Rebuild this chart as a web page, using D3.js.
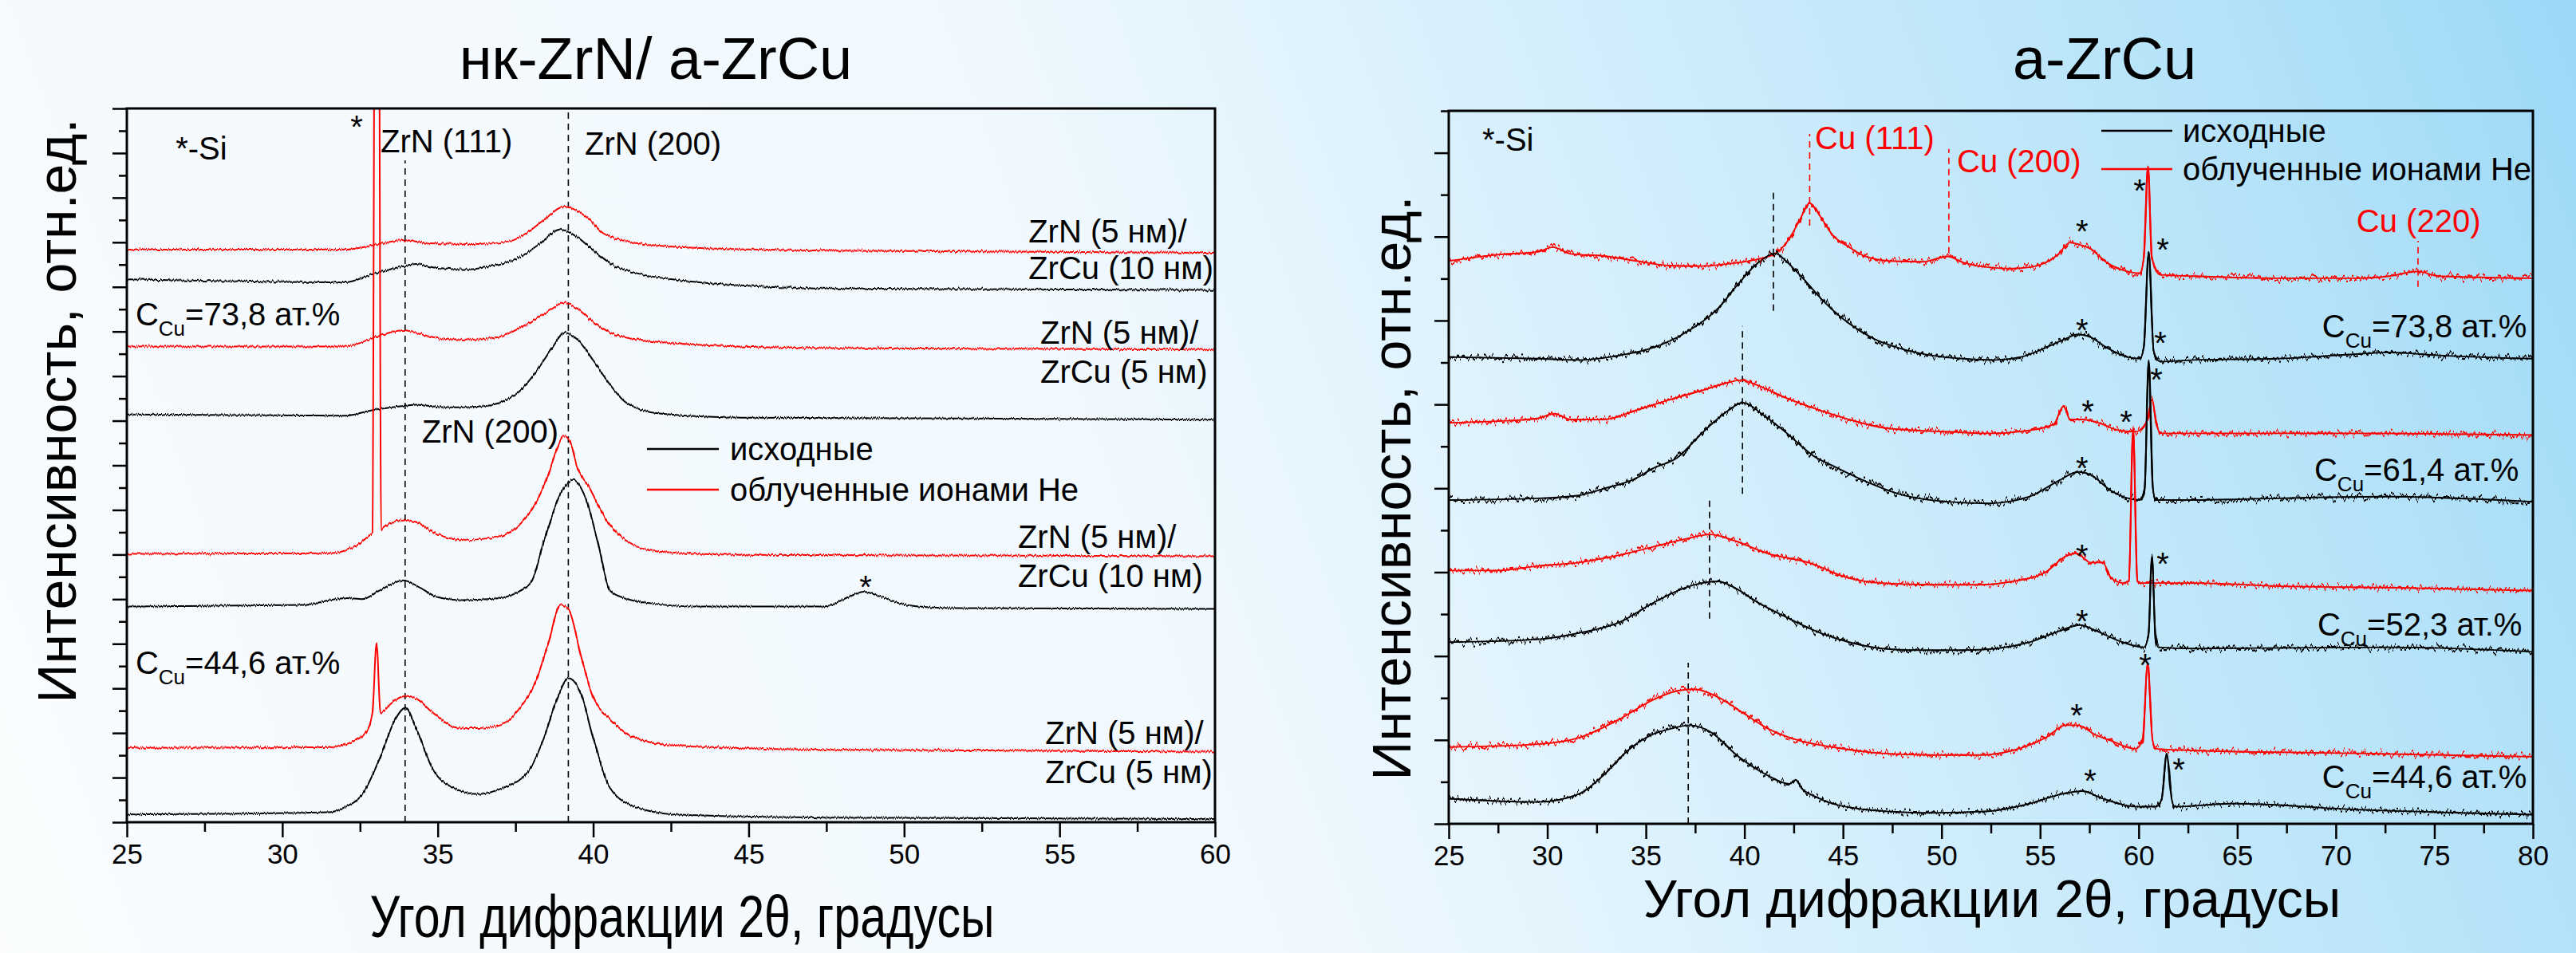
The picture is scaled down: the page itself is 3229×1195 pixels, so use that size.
<!DOCTYPE html>
<html lang="ru">
<head>
<meta charset="utf-8">
<script src="https://cdn.jsdelivr.net/npm/d3@7"></script>
<style>
  body { margin: 0; }
  svg { display: block; font-family: "Liberation Sans", Arial, sans-serif; }
</style>
</head>
<body>
<div id="chart"></div>
<script>
// Дифрактограммы: нк-ZrN/a-ZrCu (слева) и a-ZrCu (справа)
// x - угол 2θ, y - интенсивность в делениях оси (отн. ед.)

// ---- левый график: нк-ZrN/ a-ZrCu ----
const zrn10_738_obl = [[25, 25.67], [32.0, 25.67], [33.1, 25.92], [33.9, 26.10], [34.7, 25.96], [36.3, 25.92], [37.35, 26.06], [37.9, 26.46], [38.4, 26.99], [39.08, 27.60], [39.47, 27.42], [39.9, 26.99], [40.27, 26.46], [40.8, 26.14], [41.6, 25.92], [43.45, 25.74], [47.4, 25.63], [60, 25.53]];
const zrn10_738_isx = [[25, 24.34], [32.05, 24.21], [32.85, 24.55], [33.9, 24.93], [34.3, 25.03], [34.97, 24.85], [36.0, 24.79], [36.8, 24.96], [37.6, 25.30], [38.27, 25.92], [38.93, 26.57], [39.47, 26.25], [40.0, 25.64], [40.66, 24.96], [41.6, 24.55], [42.9, 24.28], [44.76, 24.07], [47.4, 23.93], [60, 23.86]];
const zrn5_738_obl = [[25, 21.33], [32.05, 21.33], [32.85, 21.67], [33.51, 21.97], [33.9, 22.06], [34.44, 21.88], [35.2, 21.67], [36.3, 21.64], [37.1, 21.81], [37.9, 22.36], [38.55, 22.90], [39.08, 23.29], [39.47, 23.04], [40.0, 22.43], [40.66, 21.88], [41.6, 21.61], [43.45, 21.40], [47.4, 21.26], [60, 21.19]];
const zrn5_738_isx = [[25, 18.28], [32.05, 18.23], [32.85, 18.46], [33.9, 18.66], [34.3, 18.72], [35.2, 18.60], [36.3, 18.63], [37.1, 18.87], [37.6, 19.28], [38.15, 20.17], [38.68, 21.26], [39.08, 21.95], [39.47, 21.67], [40.0, 20.71], [40.54, 19.62], [41.07, 18.80], [42.13, 18.32], [44.76, 18.14], [60, 18.05]];
const zrn10_446_obl = [[25, 12.03], [31.5, 12.06], [32.3, 12.33], [32.72, 12.76], [32.9, 13.0], [32.98, 40], [33.1, 40], [33.18, 13.1], [33.25, 13.19], [33.9, 13.56], [34.3, 13.46], [34.97, 12.93], [35.76, 12.65], [36.82, 12.76], [37.62, 13.32], [38.15, 14.30], [38.55, 15.56], [38.85, 16.8], [39.05, 17.32], [39.25, 17.1], [39.47, 15.98], [39.87, 15.02], [40.4, 13.60], [41.07, 12.62], [42.1, 12.13], [44.76, 11.99], [60, 11.92]];
const zrn10_446_isx = [[25, 9.67], [30.73, 9.74], [31.52, 9.96], [32.05, 10.05], [32.58, 10.0], [33.12, 10.38], [33.9, 10.84], [34.44, 10.51], [34.97, 10.10], [35.76, 9.96], [36.82, 10.02], [37.62, 10.35], [38.02, 10.80], [38.42, 12.62], [38.95, 14.73], [39.35, 15.35], [39.74, 14.59], [40.14, 12.62], [40.54, 10.38], [41.07, 10.02], [41.87, 9.81], [43.45, 9.67], [47.43, 9.67], [48.22, 10.10], [48.7, 10.33], [49.15, 10.16], [50.07, 9.74], [51.4, 9.60], [60, 9.56]];
const zrn5_446_obl = [[25, 3.33], [31.52, 3.36], [32.32, 3.65], [32.72, 4.08], [32.9, 4.91], [33.03, 8.02], [33.16, 4.91], [33.51, 5.33], [33.9, 5.64], [34.3, 5.54], [34.84, 4.91], [35.63, 4.24], [36.3, 4.22], [37.1, 4.42], [37.6, 5.05], [38.15, 6.31], [38.55, 7.99], [38.95, 9.75], [39.21, 9.54], [39.61, 7.44], [40.0, 5.61], [40.54, 4.63], [41.33, 3.79], [42.65, 3.43], [47.4, 3.25], [60, 3.16]];
const zrn5_446_isx = [[25, 0.35], [31.52, 0.45], [32.05, 0.70], [32.58, 1.26], [33.12, 2.81], [33.64, 4.63], [33.95, 5.12], [34.3, 4.22], [34.84, 2.38], [35.5, 1.54], [36.3, 1.26], [37.1, 1.54], [37.9, 2.25], [38.42, 3.79], [38.82, 5.47], [39.21, 6.45], [39.61, 5.75], [40.0, 3.79], [40.54, 1.54], [41.33, 0.70], [42.65, 0.35], [47.4, 0.21], [60, 0.14]];

// ---- правый график: a-ZrCu ----
const zrcu738_obl = [[25, 13.42], [27.45, 13.57], [29.53, 13.64], [30.27, 13.75], [31.19, 13.59], [32.85, 13.54], [34.51, 13.42], [36.17, 13.31], [37.83, 13.30], [39.49, 13.37], [40.74, 13.47], [41.57, 13.60], [42.19, 13.89], [42.81, 14.40], [43.31, 14.80], [43.85, 14.48], [44.47, 14.04], [45.31, 13.75], [46.13, 13.53], [47.38, 13.42], [49.04, 13.40], [50.29, 13.53], [51.12, 13.38], [52.37, 13.27], [53.61, 13.24], [54.86, 13.31], [55.9, 13.57], [56.52, 13.86], [56.93, 13.82], [57.56, 13.71], [58.39, 13.38], [59.22, 13.20], [60.05, 13.13], [60.26, 13.5], [60.47, 15.68], [60.67, 13.5], [61.09, 13.09], [62.75, 13.06], [66.9, 13.01], [71.05, 13.01], [72.71, 13.06], [74.17, 13.17], [75.2, 13.06], [80, 13.01]];
const zrcu738_isx = [[25, 11.13], [29.53, 11.09], [31.6, 11.06], [33.68, 11.17], [35.34, 11.35], [37.0, 11.71], [38.66, 12.29], [39.7, 12.88], [40.53, 13.31], [41.15, 13.53], [41.57, 13.60], [42.19, 13.38], [43.02, 12.98], [44.06, 12.44], [45.31, 11.93], [46.55, 11.57], [47.8, 11.35], [49.46, 11.17], [51.12, 11.09], [52.78, 11.06], [54.03, 11.13], [55.27, 11.35], [56.31, 11.57], [56.93, 11.67], [57.56, 11.60], [58.39, 11.35], [59.43, 11.13], [60.05, 11.09], [60.26, 11.35], [60.51, 13.64], [60.76, 11.27], [61.09, 11.02], [62.75, 11.06], [66.9, 11.09], [71.05, 11.20], [72.71, 11.24], [75.2, 11.17], [80, 11.09]];
const zrcu614_obl = [[25, 9.56], [27.45, 9.60], [29.53, 9.67], [30.36, 9.78], [31.19, 9.64], [32.85, 9.64], [34.51, 9.86], [36.17, 10.11], [37.83, 10.33], [39.08, 10.51], [39.82, 10.58], [40.74, 10.44], [41.98, 10.18], [43.64, 9.89], [45.31, 9.64], [46.97, 9.45], [48.63, 9.38], [50.29, 9.35], [52.37, 9.31], [54.45, 9.38], [55.69, 9.53], [56.19, 9.96], [56.52, 9.64], [57.14, 9.64], [57.97, 9.56], [59.01, 9.38], [59.84, 9.35], [60.42, 9.6], [60.67, 10.11], [60.92, 9.5], [61.09, 9.31], [62.75, 9.31], [71.05, 9.31], [80, 9.27]];
const zrcu614_isx = [[25, 7.72], [29.53, 7.76], [31.6, 7.83], [32.85, 7.99], [34.51, 8.24], [35.34, 8.47], [36.59, 8.73], [37.83, 9.31], [39.08, 9.82], [39.91, 10.04], [40.95, 9.75], [41.98, 9.38], [43.64, 8.73], [44.47, 8.54], [46.13, 8.17], [47.8, 7.87], [50.29, 7.68], [52.37, 7.64], [54.45, 7.80], [55.9, 8.17], [56.93, 8.39], [57.56, 8.32], [58.6, 7.94], [60.05, 7.72], [60.3, 8.0], [60.51, 11.06], [60.72, 8.0], [60.88, 7.72], [62.75, 7.72], [66.9, 7.76], [72.71, 7.80], [80, 7.68]];
const zrcu523_obl = [[25, 6.04], [27.45, 6.04], [29.53, 6.15], [31.6, 6.23], [33.68, 6.41], [35.34, 6.60], [37.0, 6.79], [38.25, 6.90], [39.49, 6.75], [41.15, 6.45], [43.23, 6.23], [45.31, 5.86], [46.97, 5.74], [49.46, 5.70], [51.95, 5.70], [53.61, 5.78], [55.27, 6.0], [56.31, 6.38], [56.85, 6.45], [57.56, 6.23], [58.18, 6.23], [58.6, 5.86], [59.22, 5.74], [59.5, 5.8], [59.72, 9.4], [59.93, 5.8], [60.05, 5.74], [62.75, 5.74], [66.9, 5.67], [73.13, 5.63], [80, 5.56]];
const zrcu523_isx = [[25, 4.33], [29.53, 4.40], [31.6, 4.55], [33.68, 4.81], [35.34, 5.26], [37.0, 5.63], [37.83, 5.74], [38.66, 5.78], [39.49, 5.63], [40.74, 5.26], [41.98, 4.96], [43.64, 4.59], [45.31, 4.33], [46.97, 4.18], [48.63, 4.14], [51.12, 4.14], [52.78, 4.18], [54.45, 4.33], [56.1, 4.62], [57.02, 4.74], [57.76, 4.62], [59.01, 4.36], [60.26, 4.21], [60.5, 4.5], [60.67, 6.38], [60.85, 4.5], [61.0, 4.21], [62.75, 4.18], [72.71, 4.21], [80, 4.10]];
const zrcu446_obl = [[25, 1.83], [29.53, 1.90], [31.6, 2.05], [33.68, 2.50], [35.34, 2.95], [36.59, 3.17], [37.42, 3.21], [38.66, 3.02], [39.91, 2.65], [41.15, 2.28], [42.81, 1.98], [44.47, 1.83], [46.97, 1.68], [49.46, 1.64], [51.95, 1.64], [53.61, 1.75], [55.27, 2.05], [56.31, 2.35], [56.93, 2.35], [57.76, 2.13], [58.6, 1.98], [59.84, 1.79], [60.2, 2.0], [60.45, 3.80], [60.7, 2.0], [60.88, 1.79], [62.75, 1.75], [71.05, 1.68], [80, 1.60]];
const zrcu446_isx = [[25, 0.60], [29.53, 0.52], [31.6, 0.71], [32.85, 1.16], [34.09, 1.75], [35.34, 2.13], [36.38, 2.28], [37.21, 2.35], [38.25, 2.20], [39.7, 1.60], [41.15, 1.16], [42.3, 0.95], [42.6, 1.05], [42.9, 0.85], [43.64, 0.64], [46.13, 0.34], [49.46, 0.26], [52.37, 0.30], [54.45, 0.48], [56.1, 0.71], [57.14, 0.78], [58.18, 0.60], [59.84, 0.41], [60.88, 0.41], [61.17, 0.6], [61.42, 1.68], [61.67, 0.6], [61.83, 0.41], [64.82, 0.48], [71.05, 0.34], [80, 0.22]];

// подписи (координаты в единицах осей)
const textLeft = [
  { t: "*-Si", x: 26.57, y: 29.71 },
  { t: "ZrN (111)", x: 33.16, y: 30.03 },
  { t: "ZrN (200)", x: 39.73, y: 29.93 },
  { t: "ZrN (5 нм)/", x: 54.0, y: 25.99 },
  { t: "ZrCu (10 нм)", x: 54.0, y: 24.35 },
  { t: "ZrN (5 нм)/", x: 54.38, y: 21.47 },
  { t: "ZrCu (5 нм)", x: 54.38, y: 19.70 },
  { t: "ZrN (200)", x: 34.49, y: 17.02 },
  { t: "ZrN (5 нм)/", x: 53.66, y: 12.31 },
  { t: "ZrCu (10 нм)", x: 53.66, y: 10.56 },
  { t: "ZrN (5 нм)/", x: 54.54, y: 3.50 },
  { t: "ZrCu (5 нм)", x: 54.54, y: 1.75 }
];
const concLeft = [{ v: "73,8", x: 25.28, y: 22.29 }, { v: "44,6", x: 25.28, y: 6.66 }];
const starsLeft = [[32.39, 30.68], [48.76, 10.05]];
const dashLeft = [[33.95, 0, 29.67], [39.2, 0, 32]];

const textRight = [{ t: "*-Si", x: 26.70, y: 16.05 }];
const cuPeaks = [{ t: "Cu (111)", x: 43.58, y: 16.08 }, { t: "Cu (200)", x: 50.78, y: 15.54 }, { t: "Cu (220)", x: 71.05, y: 14.11 }];
const concRight = [{ v: "73,8", x: 69.31, y: 11.60 }, { v: "61,4", x: 68.91, y: 8.17 }, { v: "52,3", x: 69.07, y: 4.48 }, { v: "44,6", x: 69.31, y: 0.86 }];
const starsRight = [[57.13, 13.86], [60.05, 14.83], [61.22, 13.42], [57.13, 11.50], [61.10, 11.20], [60.90, 10.33], [57.42, 9.56], [59.36, 9.32], [57.13, 8.21], [57.13, 6.12], [61.22, 5.93], [60.33, 3.52], [57.13, 4.56], [56.85, 2.32], [57.54, 0.76], [62.03, 1.03]];
const dashRightCu = [[43.31, 14.26, 16.45], [50.37, 13.60, 16.09], [74.17, 12.80, 13.90]];
const dashRight = [[41.47, 12.23, 15.14], [39.9, 7.87, 11.87], [38.23, 4.89, 7.80], [37.15, 0, 3.84]];

const xTicksLeft = [25, 30, 35, 40, 45, 50, 55, 60];
const xTicksRight = [25, 30, 35, 40, 45, 50, 55, 60, 65, 70, 75, 80];
const legendNames = ["исходные", "облученные ионами He"];

const W = 3229, H = 1195;
const RED = "#ff0000";

const svg = d3.select("#chart").append("svg").attr("width", W).attr("height", H);
const defs = svg.append("defs");

// фон
const grad = defs.append("linearGradient").attr("id", "bg")
  .attr("gradientUnits", "userSpaceOnUse")
  .attr("x1", 0).attr("y1", H).attr("x2", W).attr("y2", 0);
[[0, "#fbfdfe"], [0.12, "#f6fafd"], [0.44, "#f1f9fe"], [0.56, "#e0f3fd"], [0.88, "#b3e2f9"], [1, "#9cd8f7"]]
  .forEach(s => grad.append("stop").attr("offset", s[0]).attr("stop-color", s[1]));
svg.append("rect").attr("width", W).attr("height", H).attr("fill", "url(#bg)");

// шум на кривых
function noise(id, freq, scale, seed) {
  const f = defs.append("filter").attr("id", id)
    .attr("x", "-2%").attr("y", "-10%").attr("width", "104%").attr("height", "120%")
    .attr("color-interpolation-filters", "sRGB");
  f.append("feTurbulence").attr("type", "fractalNoise").attr("baseFrequency", freq)
    .attr("numOctaves", 2).attr("seed", seed).attr("result", "n");
  f.append("feColorMatrix").attr("in", "n").attr("type", "matrix")
    .attr("values", "0 0 0 0 0.5  0 1 0 0 0  0 0 0 0 0  0 0 0 0 1").attr("result", "m");
  f.append("feDisplacementMap").attr("in", "SourceGraphic").attr("in2", "m")
    .attr("scale", scale).attr("xChannelSelector", "R").attr("yChannelSelector", "G");
}
noise("noiseL", "0.6 0.004", 5, 2);
noise("noiseR", "0.3 0.004", 18, 7);

function panel(cfg) {
  const x = d3.scaleLinear().domain(cfg.xDomain).range([cfg.left, cfg.right]);
  const y = d3.scaleLinear().domain([0, cfg.yMax]).range([cfg.bottom, cfg.top]);
  const g = svg.append("g");

  defs.append("clipPath").attr("id", cfg.id + "clip")
    .append("rect").attr("x", cfg.left).attr("y", cfg.top)
    .attr("width", cfg.right - cfg.left).attr("height", cfg.bottom - cfg.top);

  // штриховые линии
  const dl = g.append("g").attr("stroke-width", 1.6).attr("stroke-dasharray", "8,6");
  cfg.dashes.forEach(d => dl.append("line")
    .attr("x1", x(d[0])).attr("x2", x(d[0])).attr("y1", y(d[1])).attr("y2", y(d[2]))
    .attr("stroke", "#000"));
  (cfg.redDashes || []).forEach(d => dl.append("line")
    .attr("x1", x(d[0])).attr("x2", x(d[0])).attr("y1", y(d[1])).attr("y2", y(d[2]))
    .attr("stroke", RED));

  // кривые: гладкая основа + зашумлённый слой
  const line = d3.line().x(d => x(d[0])).y(d => y(d[1])).curve(d3.curveMonotoneX);
  const clip = g.append("g").attr("clip-path", `url(#${cfg.id}clip)`);
  const layers = cfg.base ? [clip.append("g"), clip.append("g").attr("filter", `url(#${cfg.noise})`)]
                          : [clip.append("g").attr("filter", `url(#${cfg.noise})`)];
  layers.forEach((lg, k) => cfg.series.forEach(s => lg.append("path").datum(s.data)
    .attr("d", line).attr("fill", "none").attr("stroke", s.red ? RED : "#000")
    .attr("stroke-width", k === 0 && cfg.base ? cfg.base : cfg.lw).attr("stroke-linejoin", "round")));

  // оси: большие и малые деления
  const minorX = d3.range(cfg.xDomain[0] + 2.5, cfg.xDomain[1], 5);
  g.append("g").attr("transform", `translate(0,${cfg.bottom})`)
    .call(d3.axisBottom(x).tickValues(minorX).tickSize(12))
    .selectAll("text").remove();
  g.append("g").attr("transform", `translate(0,${cfg.bottom})`)
    .call(d3.axisBottom(x).tickValues(cfg.xTicks).tickSize(19).tickPadding(8).tickFormat(d3.format("d")))
    .selectAll("text").style("font-size", "35px").attr("fill", "#000")
    .attr("font-family", "Liberation Sans, Arial, sans-serif");
  const all = d3.range(0, Math.floor(cfg.yMax) + 1);
  g.append("g").attr("transform", `translate(${cfg.left},0)`)
    .call(d3.axisLeft(y).tickValues(all.filter(v => v % 2 === 1)).tickSize(10))
    .selectAll("text").remove();
  g.append("g").attr("transform", `translate(${cfg.left},0)`)
    .call(d3.axisLeft(y).tickValues(all.filter(v => v % 2 === 0)).tickSize(18))
    .selectAll("text").remove();
  g.selectAll(".tick line").attr("stroke", "#000").attr("stroke-width", 2.5);
  g.selectAll(".domain").remove();
  g.append("rect").attr("x", cfg.left).attr("y", cfg.top)
    .attr("width", cfg.right - cfg.left).attr("height", cfg.bottom - cfg.top)
    .attr("fill", "none").attr("stroke", "#000").attr("stroke-width", 3);

  // подписи
  const txt = (d, color) => g.append("text").attr("x", x(d.x)).attr("y", y(d.y))
    .style("font-size", "40px").attr("fill", color).text(d.t);
  cfg.texts.forEach(d => txt(d, "#000"));
  (cfg.redTexts || []).forEach(d => txt(d, RED));
  cfg.stars.forEach(s => g.append("text").attr("x", x(s[0])).attr("y", y(s[1]))
    .attr("text-anchor", "middle").style("font-size", "40px").text("*"));
  cfg.conc.forEach(c => {
    const t = g.append("text").attr("x", x(c.x)).attr("y", y(c.y)).style("font-size", "40px");
    t.append("tspan").text("C");
    t.append("tspan").attr("dy", 13).style("font-size", "26px").text("Cu");
    t.append("tspan").attr("dy", -13).text(`=${c.v} ат.%`);
  });

  // легенда
  legendNames.forEach((name, i) => {
    const ly = cfg.legend.y[i];
    g.append("line").attr("x1", cfg.legend.x0).attr("x2", cfg.legend.x1)
      .attr("y1", ly).attr("y2", ly).attr("stroke", i ? RED : "#000").attr("stroke-width", 2.5);
    g.append("text").attr("x", cfg.legend.tx).attr("y", ly + 14)
      .style("font-size", "40px").text(name);
  });

  // заголовки
  svg.append("text").attr("x", cfg.titleX).attr("y", 99).attr("text-anchor", "middle")
    .style("font-size", "74px").text(cfg.title);
  const xt = svg.append("text").attr("x", cfg.xTitle[0]).attr("y", cfg.xTitle[1])
    .attr("text-anchor", "middle").style("font-size", cfg.xTitle[2] + "px")
    .text("Угол дифракции 2θ, градусы");
  if (cfg.xTitle[3]) xt.attr("textLength", cfg.xTitle[3]).attr("lengthAdjust", "spacingAndGlyphs");
  svg.append("text").attr("transform", `translate(${cfg.yTitle[0]},${cfg.yTitle[1]}) rotate(-90)`)
    .attr("text-anchor", "middle").style("font-size", "68px").text("Интенсивность, отн.ед.");
}

panel({
  id: "L", left: 159, right: 1523, top: 136, bottom: 1031,
  xDomain: [25, 60], yMax: 32, xTicks: xTicksLeft, lw: 2, noise: "noiseL",
  series: [
    { data: zrn10_738_obl, red: true }, { data: zrn10_738_isx },
    { data: zrn5_738_obl, red: true }, { data: zrn5_738_isx },
    { data: zrn10_446_obl, red: true }, { data: zrn10_446_isx },
    { data: zrn5_446_obl, red: true }, { data: zrn5_446_isx }
  ],
  dashes: dashLeft, texts: textLeft, stars: starsLeft, conc: concLeft,
  legend: { x0: 811, x1: 901, tx: 915, y: [563, 614] },
  title: "нк-ZrN/ a-ZrCu", titleX: 822, xTitle: [855, 1175, 74, 783], yTitle: [95, 515]
});

panel({
  id: "R", left: 1816, right: 3175, top: 139, bottom: 1033,
  xDomain: [25, 80], yMax: 17, xTicks: xTicksRight, lw: 2.2, base: 1.9, noise: "noiseR",
  series: [
    { data: zrcu738_obl, red: true }, { data: zrcu738_isx },
    { data: zrcu614_obl, red: true }, { data: zrcu614_isx },
    { data: zrcu523_obl, red: true }, { data: zrcu523_isx },
    { data: zrcu446_obl, red: true }, { data: zrcu446_isx }
  ],
  dashes: dashRight, redDashes: dashRightCu, texts: textRight, redTexts: cuPeaks,
  stars: starsRight, conc: concRight,
  legend: { x0: 2634, x1: 2723, tx: 2736, y: [164, 212] },
  title: "a-ZrCu", titleX: 2638, xTitle: [2497, 1150, 66], yTitle: [1768, 612]
});
</script>
</body>
</html>
